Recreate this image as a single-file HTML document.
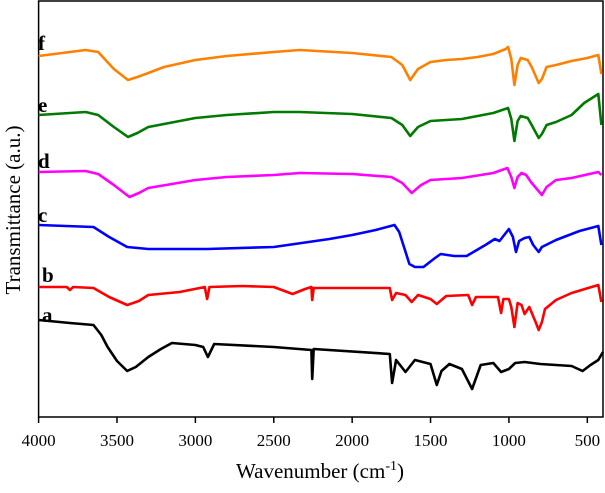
<!DOCTYPE html>
<html><head><meta charset="utf-8"><style>
html,body{margin:0;padding:0;background:#fff;}
svg{display:block;font-family:"Liberation Serif",serif;}
</style></head><body>
<svg id="chart" width="605" height="493" viewBox="0 0 605 493">
<rect x="38.6" y="1" width="564.4" height="416" fill="none" stroke="#000" stroke-width="1.5"/>
<g id="ticks"></g>
<g id="series"></g>
<text x="320" y="478" text-anchor="middle" font-size="21">Wavenumber (cm<tspan font-size="14" dy="-8">-1</tspan><tspan dy="8">)</tspan></text>
<text transform="translate(20,210) rotate(-90)" text-anchor="middle" font-size="21">Transmittance (a.u.)</text>
</svg>
<script>
const xTicks = [4000,3500,3000,2500,2000,1500,1000,500];
const seriesLabels = ['a','b','c','d','e','f'];
const seriesColors = ['#000000','#ff0000','#0000ff','#ff00ff','#007a00','#ff8000'];
const labelPos = [[42,322],[42,282],[38,222],[38,168],[38,112],[38,50]];
// values: [wavenumber, transmittance (a.u., arbitrary offset units)]
const seriesA = [[4000,97],[3800,94],[3650,92],[3600,82],[3560,70],[3500,56],[3435,46],[3380,50],[3300,60],[3220,68],[3150,74],[3000,72],[2950,70],[2920,60],[2880,73],[2500,70],[2260,67],[2255,38],[2245,68],[1760,63],[1745,34],[1720,57],[1660,45],[1600,57],[1500,53],[1460,32],[1430,46],[1380,53],[1300,48],[1235,28],[1180,52],[1100,54],[1050,45],[1000,48],[960,54],[900,55],[800,53],[600,51],[530,46],[480,52],[430,57],[400,65]];
const seriesB = [[4000,130],[3820,130],[3800,127],[3780,130],[3650,129],[3550,120],[3435,112],[3360,116],[3300,122],[3100,125],[2940,130],[2925,118],[2910,130],[2700,131],[2500,130],[2380,123],[2300,128],[2260,130],[2255,117],[2245,129],[1760,129],[1745,117],[1720,124],[1660,122],[1620,115],[1580,122],[1500,118],[1460,113],[1400,121],[1260,122],[1235,112],[1210,120],[1070,120],[1050,104],[1035,118],[1000,118],[985,110],[965,90],[945,114],[920,112],[900,103],[870,110],[830,95],[810,87],[790,95],[770,108],[700,117],[600,124],[430,132],[410,115]];
const seriesC = [[4000,192],[3650,190],[3550,180],[3435,170],[3300,168],[2925,168],[2500,170],[2145,178],[2000,182],[1850,187],[1730,192],[1700,185],[1635,153],[1600,150],[1545,150],[1480,158],[1435,163],[1350,161],[1270,161],[1150,172],[1090,178],[1060,176],[1000,188],[975,180],[955,165],[935,176],[900,179],[870,180],[845,172],[810,165],[790,170],[700,177],[550,186],[430,191],[410,172]];
const seriesD = [[4000,245],[3700,246],[3620,243],[3520,232],[3420,220],[3360,224],[3300,229],[3000,237],[2800,240],[2500,242],[2335,244],[2000,243],[1750,240],[1680,234],[1620,224],[1560,232],[1500,237],[1300,239],[1100,244],[1010,249],[985,240],[965,229],[945,240],[920,244],[890,242],[860,235],[790,222],[760,230],[700,237],[600,239],[430,245],[410,242]];
const seriesE = [[4000,302],[3700,305],[3620,302],[3520,290],[3430,280],[3370,284],[3300,290],[3000,299],[2800,302],[2500,305],[2335,305],[2000,303],[1750,299],[1680,292],[1630,281],[1580,290],[1500,296],[1300,298],[1100,304],[1005,309],[985,298],[965,276],[945,296],[925,301],[880,299],[855,292],[810,279],[790,283],[760,292],[700,295],[600,302],[520,314],[430,323],[410,292]];
const seriesF = [[4000,361],[3700,367],[3620,365],[3520,348],[3430,337],[3370,340],[3300,344],[3200,350],[3000,357],[2800,361],[2500,365],[2335,367],[2000,364],[1750,360],[1680,352],[1630,337],[1580,348],[1500,355],[1400,357],[1300,358],[1200,360],[1100,363],[1020,368],[1005,370],[985,358],[965,332],[945,352],[925,359],[880,357],[855,350],[810,334],[790,338],[760,350],[700,352],[600,356],[500,359],[430,362],[410,343]];
const allSeries = [seriesA,seriesB,seriesC,seriesD,seriesE,seriesF];

const X0=38.6, X1=603, Y0=417, Y1=1;
function xScale(w){ return X0 + (4000 - w) * (X1 - X0) / 3600; }
function yScale(v){ return Y0 - v * (Y0 - Y1) / 416; }
const NS='http://www.w3.org/2000/svg';
const tg=document.getElementById('ticks');
xTicks.forEach(t=>{
  const x=xScale(t);
  const l=document.createElementNS(NS,'line');
  l.setAttribute('x1',x);l.setAttribute('x2',x);l.setAttribute('y1',Y0);l.setAttribute('y2',Y0+6);
  l.setAttribute('stroke','#000');l.setAttribute('stroke-width','1.5');
  
  
  tg.appendChild(l);
  const tx=document.createElementNS(NS,'text');
  tx.setAttribute('x',x);tx.setAttribute('y',446);tx.setAttribute('text-anchor','middle');tx.setAttribute('font-size','17');
  tx.textContent=t;
  
  
  tg.appendChild(tx);
});
const sg=document.getElementById('series');
allSeries.forEach((s,i)=>{
  const p=document.createElementNS(NS,'path');
  p.setAttribute('d',s.map((d,j)=>(j?'L':'M')+xScale(d[0]).toFixed(1)+','+yScale(d[1]).toFixed(1)).join(''));
  p.setAttribute('fill','none');p.setAttribute('stroke',seriesColors[i]);p.setAttribute('stroke-width','2.6');
  p.setAttribute('stroke-linejoin','round');
  
  
  sg.appendChild(p);
  const t=document.createElementNS(NS,'text');
  t.setAttribute('x',labelPos[i][0]);t.setAttribute('y',labelPos[i][1]);
  t.setAttribute('font-size','21');t.setAttribute('font-weight','bold');
  t.textContent=seriesLabels[i];
  
  
  sg.appendChild(t);
});
</script>
</body></html>
